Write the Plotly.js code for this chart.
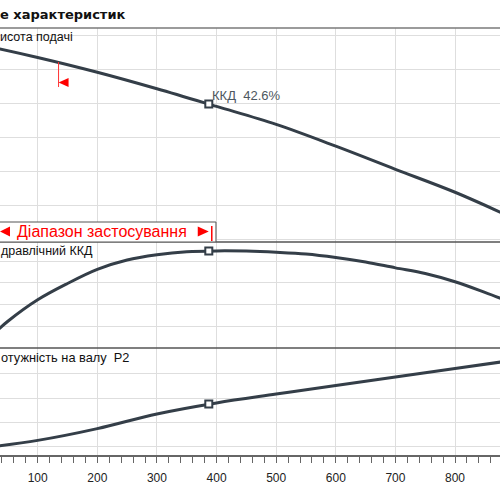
<!DOCTYPE html>
<html><head><meta charset="utf-8">
<script src="https://cdn.plot.ly/plotly-3.0.1.min.js"></script>
<style>html,body{margin:0;padding:0;background:#fff}#chart{width:500px;height:500px}</style>
</head><body><div id="chart"></div>
<script>
// Flow (x), head, efficiency, shaft power
const flow = [0, 100, 200, 300, 400, 500, 600, 700, 800, 900];
const head = [31.46, 30.68, 29.81, 28.84, 27.80, 26.74, 25.46, 24.10, 22.75, 21.19];
const effFlow = [0, 50, 100, 150, 200, 250, 300, 350, 400, 450, 500, 550, 600, 650, 700, 750, 800, 850, 900];
const efficiency = [0, 12.3, 22.2, 29.7, 36.2, 40.5, 42.9, 44.3, 44.7, 44.6, 44.1, 43.3, 41.7, 39.6, 36.9, 34.3, 30.5, 25.6, 20.3];
const power = [1.94, 2.27, 2.75, 3.35, 3.80, 4.16, 4.51, 4.86, 5.20, 5.55];
const dutyFlow = [387];
const dutyHead = [27.94];
const dutyEff = [44.7];
const dutyPower = [3.76];
const rangeMin = 135;
const rangeMax = 392;
const xTicks = [100, 200, 300, 400, 500, 600, 700, 800];
const titleText = 'е характеристик';
const headLabel = 'исота подачі';
const effLabel = 'дравлічний ККД';
const powerLabel = 'отужність на валу  P2';
const dutyLabel = 'ККД  42.6%';
const rangeLabel = 'Діапазон застосування';

const lineColor = '#343e48';
const gridColor = '#dedede';
const H = 500, T = 28, B = 45;
const py = p => (H - B - p) / (H - T - B);

const lineStyle = {color: lineColor, width: 3, shape: 'spline', smoothing: 1};
const mk = {symbol: 'square', size: 7, color: '#ffffff', line: {color: lineColor, width: 2}};

const traces = [
  {x: flow, y: head, xaxis: 'x', yaxis: 'y', mode: 'lines', line: lineStyle, hoverinfo: 'skip'},
  {x: effFlow, y: efficiency, xaxis: 'x', yaxis: 'y2', mode: 'lines', line: lineStyle, hoverinfo: 'skip'},
  {x: flow, y: power, xaxis: 'x', yaxis: 'y3', mode: 'lines', line: lineStyle, hoverinfo: 'skip'},
  {x: dutyFlow, y: dutyHead, xaxis: 'x', yaxis: 'y', mode: 'markers', marker: mk},
  {x: dutyFlow, y: dutyEff, xaxis: 'x', yaxis: 'y2', mode: 'markers', marker: mk},
  {x: dutyFlow, y: dutyPower, xaxis: 'x', yaxis: 'y3', mode: 'markers', marker: mk}
];

const yBase = {showticklabels: false, ticks: '', gridcolor: gridColor, gridwidth: 1, zeroline: false, showline: false, anchor: 'x', fixedrange: true};
const red = '#ff0000';

const layout = {
  width: 500, height: 500,
  margin: {l: 0, r: 0, t: T, b: B, pad: 0},
  paper_bgcolor: '#ffffff', plot_bgcolor: '#ffffff',
  showlegend: false,
  font: {family: '"Liberation Sans", Arial, sans-serif', color: '#222', size: 12},
  xaxis: {
    range: [36.8, 875.4], tickvals: xTicks, ticktext: xTicks.map(String),
    ticks: 'outside', ticklen: 6, tickcolor: '#666', tickwidth: 1,
    showline: true, linecolor: '#666', linewidth: 1.5,
    showgrid: true, gridcolor: gridColor, gridwidth: 1, zeroline: false,
    anchor: 'y3', fixedrange: true,
    minor: {dtick: 20, tick0: 0, ticks: 'outside', ticklen: 6, tickcolor: '#666', tickwidth: 1, showgrid: false},
    tickfont: {size: 12, color: '#222'}, ticklabelstandoff: 5
  },
  yaxis: Object.assign({}, yBase, {domain: [py(242), 1], range: [19.824, 32.412], dtick: 2, tick0: 0}),
  yaxis2: Object.assign({}, yBase, {domain: [py(348), py(242)], range: [0, 48.8], dtick: 10, tick0: 0}),
  yaxis3: Object.assign({}, yBase, {domain: [0, py(348)], range: [1.673, 6.041], dtick: 1, tick0: 0}),
  shapes: [
    {type: 'line', xref: 'paper', yref: 'paper', x0: 0, x1: 1, y0: 1, y1: 1, line: {color: '#7a7a7a', width: 1.5}},
    {type: 'line', xref: 'paper', yref: 'paper', x0: 0, x1: 1, y0: py(242), y1: py(242), line: {color: '#555', width: 1.5}},
    {type: 'line', xref: 'paper', yref: 'paper', x0: 0, x1: 1, y0: py(348), y1: py(348), line: {color: '#555', width: 1.5}},
    // range box
    {type: 'rect', xref: 'x', yref: 'y', x0: 0, x1: rangeMax + 7, y0: 19.824, y1: 21.0, fillcolor: '#ffffff', line: {color: '#555', width: 1}, layer: 'above'},
    {type: 'line', xref: 'x', yref: 'y', x0: rangeMax, x1: rangeMax, y0: 19.88, y1: 20.76, line: {color: red, width: 1.5}},
    // range start marker on head curve
    {type: 'line', xref: 'x', yref: 'y', x0: rangeMin, x1: rangeMin, y0: 28.94, y1: 30.41, line: {color: '#ff3333', width: 1}},
    {type: 'path', xref: 'x', yref: 'y', xsizemode: 'pixel', ysizemode: 'pixel', xanchor: rangeMin, yanchor: 29.21,
     path: 'M0,0 L10,4.5 L10,-4.5 Z', fillcolor: red, line: {color: red, width: 0}},
    // range box arrows
    {type: 'path', xref: 'paper', yref: 'y', xsizemode: 'pixel', ysizemode: 'pixel', xanchor: 0, yanchor: 20.44,
     path: 'M0,0 L10,5 L10,-5 Z', fillcolor: red, line: {color: red, width: 0}},
    {type: 'path', xref: 'x', yref: 'y', xsizemode: 'pixel', ysizemode: 'pixel', xanchor: rangeMax, yanchor: 20.44,
     path: 'M-3,0 L-14,5 L-14,-5 Z', fillcolor: red, line: {color: red, width: 0}}
  ],
  annotations: [
    {text: '<b>' + titleText + '</b>', xref: 'paper', yref: 'paper', x: 0, y: py(15), xanchor: 'left', yanchor: 'middle', xshift: -2, showarrow: false,
     font: {family: '"DejaVu Sans", Verdana, sans-serif', size: 13, color: '#111'}},
    {text: headLabel, xref: 'paper', yref: 'paper', x: 0, y: py(36.5), xanchor: 'left', yanchor: 'middle', xshift: -2, showarrow: false,
     font: {size: 12.5, color: '#111'}},
    {text: effLabel, xref: 'paper', yref: 'paper', x: 0, y: py(251), xanchor: 'left', yanchor: 'middle', xshift: -1, showarrow: false,
     font: {size: 12.5, color: '#111'}},
    {text: powerLabel, xref: 'paper', yref: 'paper', x: 0, y: py(357), xanchor: 'left', yanchor: 'middle', xshift: -1, showarrow: false,
     font: {size: 12.8, color: '#111'}},
    {text: dutyLabel, xref: 'x', yref: 'y', x: dutyFlow[0], y: dutyHead[0], xanchor: 'left', yanchor: 'middle', xshift: 1, yshift: 9, showarrow: false,
     font: {size: 13, color: '#4d5760'}},
    {text: rangeLabel, xref: 'paper', yref: 'y', x: 0, y: 20.44, xanchor: 'left', yanchor: 'middle', xshift: 15, showarrow: false,
     font: {size: 16, color: red}}
  ]
};

Plotly.newPlot('chart', traces, layout, {staticPlot: true, displayModeBar: false});
</script>
</body></html>
